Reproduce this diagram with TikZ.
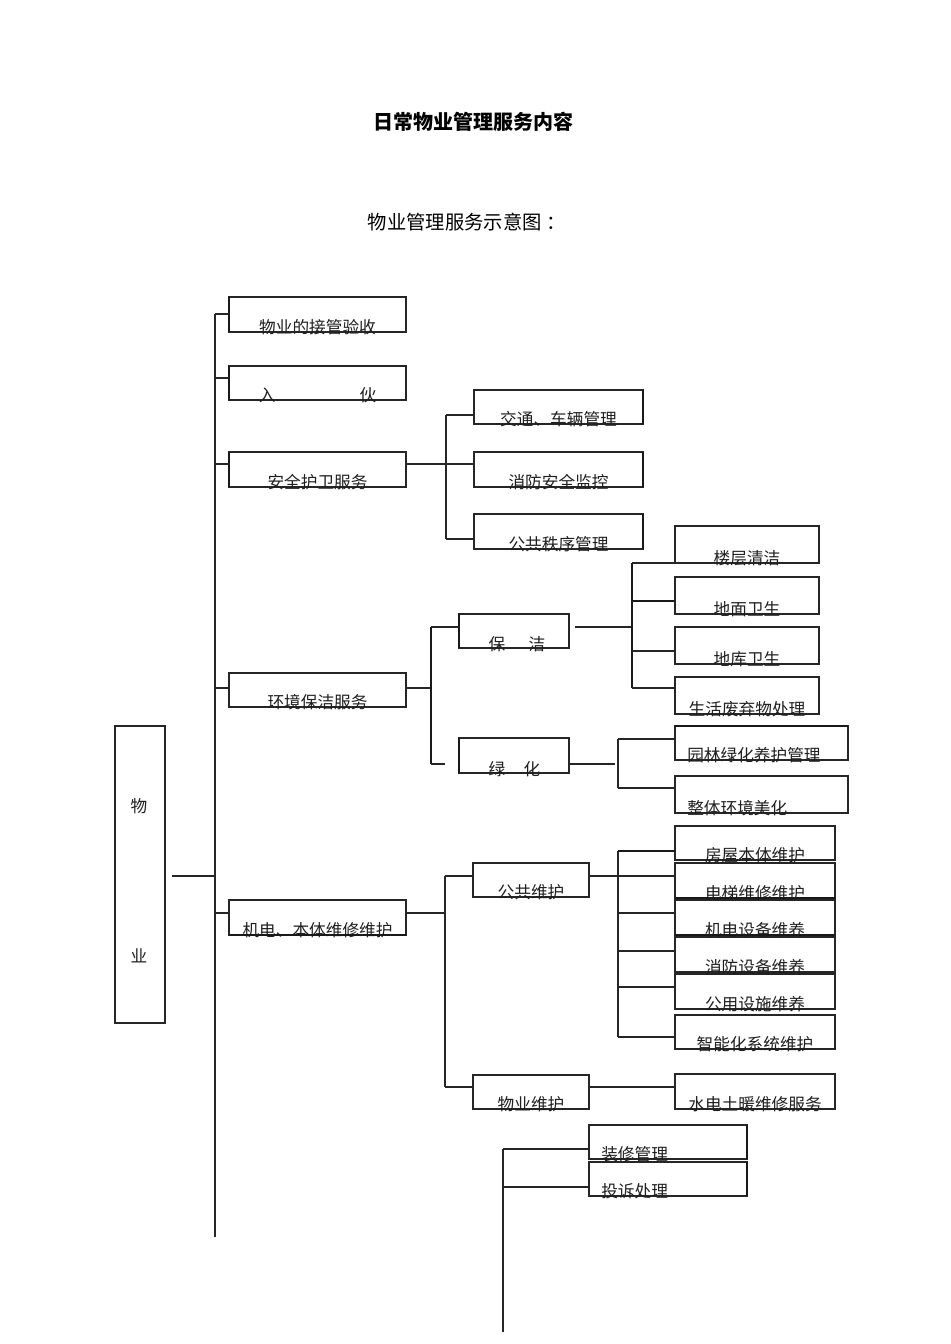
\documentclass[tikz,border=0pt]{standalone}
\usepackage{fontspec}
\setmainfont{Noto Sans CJK SC}
\begin{document}
\begin{tikzpicture}[x=0.75pt,y=-0.75pt,
  ln/.style={draw=black!85, line width=0.85pt},
  bx/.style n args={2}{ln, rectangle, inner sep=0pt, outer sep=0pt,
    minimum width=#1*0.75pt, minimum height=#2*0.75pt, anchor=north west},
  lbl/.style={inner sep=0pt, text=black!88, font=\fontsize{12.5pt}{15pt}\selectfont},
  hv/.style={line width=1.6pt, draw=black!90}]
\useasboundingbox[fill=white] (0,0) rectangle (950,1344);

% titles
\node[inner sep=0pt, font=\fontsize{15pt}{18pt}\selectfont\bfseries] (title) at (473,122) {日常物业管理服务内容};
\node[inner sep=0pt, font=\fontsize{14.5pt}{17pt}\selectfont] (subtitle) at (467,222) {物业管理服务示意图\hspace{4pt}：};

% root
\node[bx={50}{297}] (M) at (115,726) {};
\node[lbl] (Mt1) at (139,806) {物};
\node[lbl] (Mt2) at (139,956) {业};

% level 1
\node[bx={177}{35}] (A1) at (229,297) {};
\node[bx={177}{34}] (A2) at (229,366) {};
\node[bx={177}{35}] (A3) at (229,452) {};
\node[bx={177}{34}] (A4) at (229,673) {};
\node[bx={177}{35}] (A5) at (229,900) {};
\node[lbl] at ([yshift=3.75pt]A1.south) {物业的接管验收};
\node[lbl] at ([yshift=3.75pt]A2.south) {入\hspace{63pt}伙};
\node[lbl] at ([yshift=3.75pt]A3.south) {安全护卫服务};
\node[lbl] at ([yshift=3.75pt]A4.south) {环境保洁服务};
\node[lbl] at ([yshift=3.75pt]A5.south) {机电、本体维修维护};
\foreach \b in {A1,A2,A3} \draw[hv] (\b.north west) -- (\b.south west);
\draw[hv] (A5.south west) -- (A5.south east);

% trunk
\coordinate (j1) at (215,314);
\coordinate (j2) at (215,378);
\coordinate (j3) at (215,464);
\coordinate (j4) at (215,688);
\coordinate (jm) at (215,876);
\coordinate (j5) at (215,913);
\coordinate (jB) at (215,1237);
\coordinate (ms) at (172,876);
\draw[ln] (j1) -- (jB);
\draw[ln] (ms) -- (jm);
\foreach \j/\b in {j1/A1,j2/A2,j3/A3,j4/A4,j5/A5} \draw[ln] (\j) -- (\j -| \b.west);

% security
\node[bx={169}{34}] (B1) at (474,390) {};
\node[bx={169}{35}] (B2) at (474,452) {};
\node[bx={169}{35}] (B3) at (474,514) {};
\node[lbl] at ([yshift=3.75pt]B1.south) {交通、车辆管理};
\node[lbl] at ([yshift=3.75pt]B2.south) {消防安全监控};
\node[lbl] at ([yshift=3.75pt]B3.south) {公共秩序管理};
\foreach \b in {B1,B2,B3} \draw[hv] (\b.north east) -- (\b.south east);
\coordinate (s0) at (446,464);
\coordinate (s1) at (446,415);
\coordinate (s3) at (446,539);
\draw[ln] (s0 -| A3.east) -- (s0);
\draw[ln] (s1) -- (s3);
\draw[ln] (s1) -- (s1 -| B1.west);
\draw[ln] (s0) -- (s0 -| B2.west);
\draw[ln] (s3) -- (s3 -| B3.west);

% environment
\node[bx={110}{34}] (C1) at (459,614) {};
\node[bx={110}{35}] (C2) at (459,738) {};
\node[lbl] at (517,644) {保\hspace{17.5pt}洁};
\node[lbl] at (514.5,769) {绿\hspace{13.7pt}化};
\draw[hv] (C1.north west) -- (C1.south west);
\draw[hv] (C2.north west) -- (C2.south west);
\coordinate (e0) at (431,688);
\coordinate (e1) at (431,627);
\coordinate (e2) at (431,764);
\coordinate (e2b) at (445,764);
\draw[ln] (e0 -| A4.east) -- (e0);
\draw[hv, line width=1.3pt] (e1) -- (e2);
\draw[ln] (e1) -- (e1 -| C1.west);
\draw[ln] (e2) -- (e2b);

% cleaning
\node[bx={144}{37}] (D1) at (675,526) {};
\node[bx={144}{37}] (D2) at (675,577) {};
\node[bx={144}{37}] (D3) at (675,627) {};
\node[bx={144}{37}] (D4) at (675,677) {};
\node[lbl] at ([yshift=3.75pt]D1.south) {楼层清洁};
\node[lbl] at ([yshift=3.75pt]D2.south) {地面卫生};
\node[lbl] at ([yshift=3.75pt]D3.south) {地库卫生};
\node[lbl] at ([yshift=3.75pt]D4.south) {生活废弃物处理};
\coordinate (p0s) at (575,627);
\coordinate (p0) at (632,627);
\coordinate (p1) at (632,563);
\coordinate (p2) at (632,601);
\coordinate (p3) at (632,651);
\coordinate (p4) at (632,688);
\draw[ln] (p0s) -- (p0);
\draw[hv, line width=1.3pt] (p1) -- (p4);
\draw[ln] (p1) -- (p1 -| D1.west);
\draw[hv, line width=1.3pt] (p2) -- (p2 -| D2.west);
\draw[ln] (p3) -- (p3 -| D3.west);
\draw[ln] (p4) -- (p4 -| D4.west);

% greening
\node[bx={173}{34}] (E1) at (675,726) {};
\node[bx={173}{37}] (E2) at (675,776) {};
\node[lbl, anchor=west] at ([xshift=9pt,yshift=3.75pt]E1.south west) {园林绿化养护管理};
\node[lbl, anchor=west] at ([xshift=9pt,yshift=3.75pt]E2.south west) {整体环境美化};
\draw[hv] (E1.north west) -- (E1.north east);
\coordinate (g0) at (615,764);
\coordinate (g1) at (618,739);
\coordinate (g2) at (618,788);
\draw[ln] (g0 -| C2.east) -- (g0);
\draw[ln] (g1) -- (g2);
\draw[ln] (g1) -- (g1 -| E1.west);
\draw[ln] (g2) -- (g2 -| E2.west);

% maintenance
\node[bx={116}{34}] (F1) at (473,863) {};
\node[bx={116}{34}] (F2) at (473,1075) {};
\node[lbl] at ([yshift=3.75pt]F1.south) {公共维护};
\node[lbl] at ([yshift=3.75pt]F2.south) {物业维护};
\coordinate (m0) at (445,913);
\coordinate (m1) at (445,876);
\coordinate (m2) at (445,1087);
\draw[ln] (m0 -| A5.east) -- (m0);
\draw[ln] (m1) -- (m2);
\draw[ln] (m1) -- (m1 -| F1.west);
\draw[ln] (m2) -- (m2 -| F2.west);

\node[bx={160}{34}] (G1) at (675,826) {};
\node[bx={160}{35}] (G2) at (675,863) {};
\node[bx={160}{35}] (G3) at (675,900) {};
\node[bx={160}{35}] (G4) at (675,937) {};
\node[bx={160}{35}] (G5) at (675,974) {};
\node[bx={160}{34}] (G6) at (675,1015) {};
\node[lbl] at ([yshift=3.75pt]G1.south) {房屋本体维护};
\node[lbl] at ([yshift=3.75pt]G2.south) {电梯维修维护};
\node[lbl] at ([yshift=3.75pt]G3.south) {机电设备维养};
\node[lbl] at ([yshift=3.75pt]G4.south) {消防设备维养};
\node[lbl] at ([yshift=3.75pt]G5.south) {公用设施维养};
\node[lbl] at ([yshift=3.75pt]G6.south) {智能化系统维护};
\draw[hv] (G2.south west) -- (G2.south east);
\draw[hv] (G3.south west) -- (G3.south east);
\coordinate (q1) at (618,851);
\coordinate (q2) at (618,876);
\coordinate (q3) at (618,913);
\coordinate (q4) at (618,951);
\coordinate (q5) at (618,987);
\coordinate (q6) at (618,1037);
\draw[ln] (q1) -- (q6);
\draw[ln] (q2 -| F1.east) -- (q2 -| G2.west);
\draw[hv, line width=1.3pt] (q1) -- (q1 -| G1.west);
\foreach \q/\b in {q3/G3,q4/G4,q5/G5,q6/G6} \draw[ln] (\q) -- (\q -| \b.west);

\node[bx={160}{35}] (H1) at (675,1074) {};
\node[lbl] at ([yshift=3.75pt]H1.south) {水电土暖维修服务};
\coordinate (r0) at (589,1087);
\draw[ln] (r0) -- (r0 -| H1.west);

% bottom group
\node[bx={158}{34}] (K1) at (589,1125) {};
\node[bx={158}{34}] (K2) at (589,1162) {};
\node[lbl, anchor=west] at ([xshift=9pt,yshift=3.75pt]K1.south west) {装修管理};
\node[lbl, anchor=west] at ([xshift=9pt,yshift=3.75pt]K2.south west) {投诉处理};
\draw[hv] (K1.north east) -- (K1.south east);
\draw[hv] (K2.north east) -- (K2.south east);
\coordinate (k1) at (503,1149);
\coordinate (k2) at (503,1187);
\coordinate (kB) at (503,1332);
\draw[ln] (k1) -- (kB);
\draw[ln] (k1) -- (k1 -| K1.west);
\draw[ln] (k2) -- (k2 -| K2.west);
\end{tikzpicture}
\end{document}
